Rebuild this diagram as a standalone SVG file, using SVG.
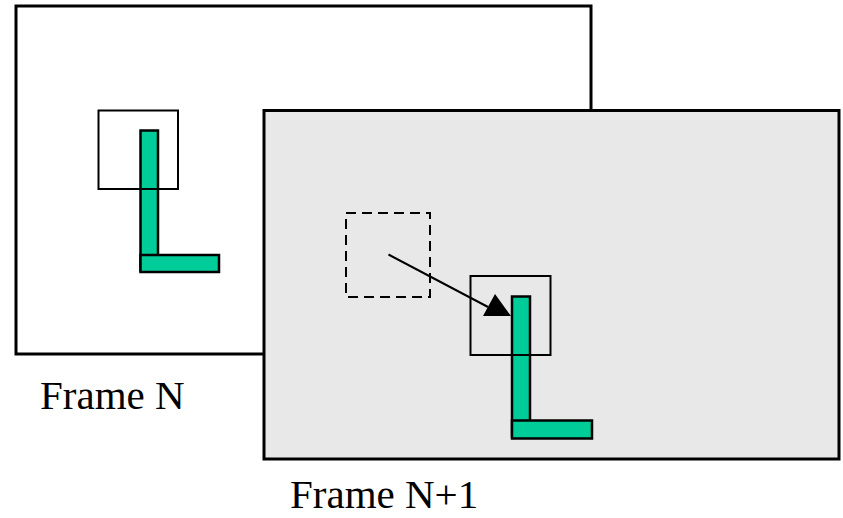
<svg xmlns="http://www.w3.org/2000/svg" width="843" height="518" viewBox="0 0 843 518">
<style>
.frame{stroke:#000;stroke-width:3}
.box{fill:none;stroke:#000;stroke-width:2}
.bar{fill:#00cc99;stroke:#000;stroke-width:2.5}
.lbl{font-family:"Liberation Serif","Times New Roman",serif;font-size:41px;fill:#000}
</style>
<rect width="843" height="518" fill="#fff"/>
<g id="frameN">
<rect class="frame" x="16" y="6" width="575" height="348" fill="#fff"/>
<rect class="bar" x="140.5" y="130.5" width="17.5" height="140"/>
<rect class="bar" x="140.5" y="255" width="78.5" height="17"/>
<rect class="box" x="98.5" y="110.5" width="79.5" height="78.5"/>
<text class="lbl" x="40" y="409">Frame N</text>
</g>
<g id="frameN1">
<rect class="frame" x="264" y="110.5" width="575" height="348.5" fill="#e8e8e8"/>
<rect class="box" x="346" y="213" width="84" height="84" stroke-dasharray="10,6" stroke-width="3"/>
<rect class="bar" x="512" y="296.5" width="18" height="140"/>
<rect class="bar" x="512" y="420.5" width="80" height="18"/>
<rect class="box" x="470.5" y="276" width="80" height="79"/>
<text class="lbl" x="290" y="508">Frame N+1</text>
</g>
<g id="connectors">
<line x1="388.5" y1="254.5" x2="488" y2="307" stroke="#000" stroke-width="2"/>
<polygon points="495,294 511,316 483,316" fill="#000"/>
</g>
</svg>
